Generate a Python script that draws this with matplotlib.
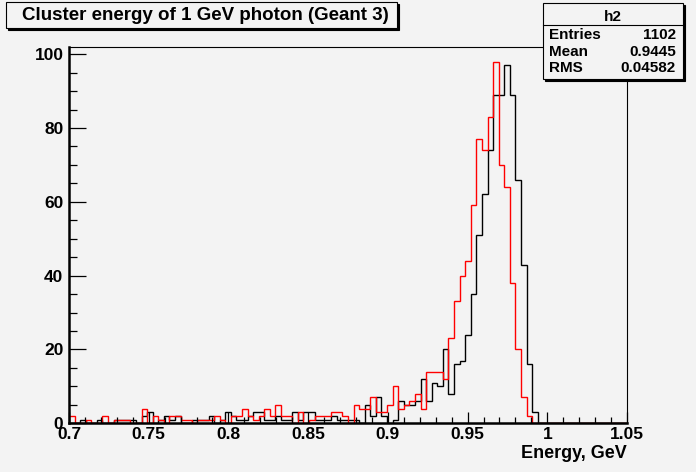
import numpy as np
import matplotlib
matplotlib.use("Agg")
import matplotlib.pyplot as plt
from matplotlib.patches import Rectangle
from matplotlib.ticker import FixedLocator, MultipleLocator

# ---- data (100 bins, 0.7 .. 1.05 GeV) ----
e_lo, e_hi, nbins = 0.7, 1.05, 100

black_counts = [0, 0, 1, 0, 0, 1, 0, 0, 1, 1,
                1, 1, 0, 2, 3, 0, 1, 2, 1, 2,
                0, 0, 1, 1, 1, 2, 0, 1, 3, 2,
                1, 1, 2, 3, 3, 1, 1, 2, 1, 1,
                3, 1, 3, 3, 1, 1, 1, 2, 1, 1,
                1, 1, 0, 5, 2, 7, 2, 0, 1, 6,
                5, 5, 6, 12, 6, 11, 10, 20, 8, 16,
                17, 24, 35, 51, 62, 74, 89, 89, 97, 89,
                66, 43, 16, 3, 0, 0, 0, 0, 0, 0,
                0, 0, 0, 0, 0, 0, 0, 0, 0, 0]

red_counts = [2, 0, 0, 1, 0, 0, 2, 0, 1, 1,
              1, 0, 0, 4, 0, 2, 1, 0, 2, 2,
              1, 1, 0, 1, 1, 1, 2, 1, 0, 2,
              2, 4, 2, 1, 2, 4, 2, 5, 2, 2,
              0, 3, 0, 1, 2, 2, 2, 3, 3, 2,
              0, 5, 4, 4, 7, 3, 3, 5, 10, 4,
              5, 6, 8, 4, 14, 14, 14, 12, 23, 33,
              40, 44, 59, 77, 74, 83, 98, 70, 64, 38,
              20, 7, 2, 0, 0, 0, 0, 0, 0, 0,
              0, 0, 0, 0, 0, 0, 0, 0, 0, 0]

x_ticks = [0.7, 0.75, 0.8, 0.85, 0.9, 0.95, 1.0, 1.05]
x_labels = ["0.7", "0.75", "0.8", "0.85", "0.9", "0.95", "1", "1.05"]
y_ticks = [0, 20, 40, 60, 80, 100]

title_text = "Cluster energy of 1 GeV photon (Geant 3)"
x_title = "Energy, GeV"
stats_name = "h2"
stats_keys = ["Entries", "Mean", "RMS"]
stats_vals = ["1102", "0.9445", "0.04582"]

# ---- figure ----
W, H = 696, 472
bg = "#f3f3f3"
plt.rcParams['font.family'] = ['Liberation Sans', 'DejaVu Sans']
plt.rcParams['font.weight'] = 'bold'

fig = plt.figure(figsize=(W / 100, H / 100), dpi=100, facecolor=bg)

def fx(px):
    return px / W

def fy(py):
    return 1 - py / H

ax = fig.add_axes([fx(69), fy(423.3), fx(627 - 69), (423.3 - 47.3) / H])
ax.set_facecolor(bg)

edges = np.linspace(e_lo, e_hi, nbins + 1)
ax.stairs(black_counts, edges, color="black", lw=1.0, baseline=0)
ax.stairs(red_counts, edges, color="red", lw=1.0, baseline=0)

ax.set_xlim(e_lo, e_hi)
ax.set_ylim(0, 1.05 * max(black_counts))

ax.xaxis.set_major_locator(FixedLocator(x_ticks))
ax.set_xticklabels(x_labels)
ax.xaxis.set_minor_locator(MultipleLocator(0.01))
ax.yaxis.set_major_locator(FixedLocator(y_ticks))
ax.yaxis.set_minor_locator(MultipleLocator(5))

ax.tick_params(axis="x", which="major", direction="in", length=8, width=0.9, labelsize=12.5, pad=3)
ax.tick_params(axis="x", which="minor", direction="in", length=4, width=0.9)
ax.tick_params(axis="y", which="major", direction="in", length=12, width=0.9, labelsize=12.5, pad=4)
ax.tick_params(axis="y", which="minor", direction="in", length=6, width=0.9)

for s in ["left", "bottom"]:
    ax.spines[s].set_linewidth(1.8)
for s in ["top", "right"]:
    ax.spines[s].set_linewidth(0.8)

fig.text(fx(627), fy(454), x_title, ha="right", va="center", fontsize=13)

# title box with shadow
def shadow_box(x0, y0, x1, y1, z=10):
    fig.add_artist(Rectangle((fx(x0 + 2), fy(y1 + 2)), fx(x1 - x0), (y1 - y0) / H,
                             facecolor="black", edgecolor="black", lw=0.8, zorder=z))
    fig.add_artist(Rectangle((fx(x0), fy(y1)), fx(x1 - x0), (y1 - y0) / H,
                             facecolor=bg, edgecolor="black", lw=0.8, zorder=z + 1))

shadow_box(6, 2, 397, 28)
fig.text(fx(22), fy(15.5), title_text, ha="left", va="center", fontsize=13.5, zorder=20)

# stats box
shadow_box(543, 3, 683, 79)
fig.add_artist(plt.Line2D([fx(543), fx(683)], [fy(25), fy(25)], color="black", lw=0.8, zorder=20))
fig.text(fx(613), fy(17), stats_name, ha="center", va="center", fontsize=11, zorder=20)
for i, (k, v) in enumerate(zip(stats_keys, stats_vals)):
    yy = fy(35 + i * 16.5)
    fig.text(fx(549), yy, k, ha="left", va="center", fontsize=11, zorder=20)
    fig.text(fx(676), yy, v, ha="right", va="center", fontsize=11, zorder=20)

fig.savefig("out.png", dpi=100, facecolor=bg)
